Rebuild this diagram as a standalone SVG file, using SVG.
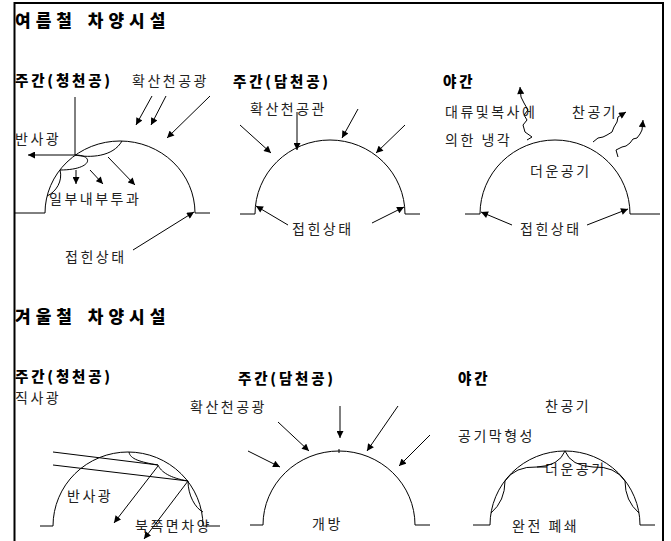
<svg xmlns="http://www.w3.org/2000/svg" width="671" height="541" viewBox="0 0 671 541">
  <defs>
    <marker id="arrow" viewBox="0 0 10 10" refX="10" refY="5" markerWidth="8" markerHeight="7" markerUnits="userSpaceOnUse" orient="auto">
      <path d="M0,0 L10,5 L0,10 z" fill="#000"/>
    </marker>
    <style>
      .ln { fill: none; stroke: #000; stroke-width: 1; }
      .ar { fill: none; stroke: #000; stroke-width: 1; marker-end: url(#arrow); }
      .t { font-family: "Noto Sans CJK KR", "Noto Sans", sans-serif; font-size: 14px; letter-spacing: 2.5px; fill: #222; }
      .h { font-family: "Noto Sans CJK KR", "Noto Sans", sans-serif; font-size: 14.5px; font-weight: 900; letter-spacing: 2.8px; fill: #000; }
      .title { font-family: "Noto Sans CJK KR", "Noto Sans", sans-serif; font-size: 17px; font-weight: 900; letter-spacing: 5px; word-spacing: 2px; fill: #000; }
    </style>
  </defs>
  <rect width="671" height="541" fill="#fff"/>

  <!-- outer frame -->
  <path d="M14.5,541 V3 H663 V541" fill="none" stroke="#000" stroke-width="2"/>

  <!-- ===== summer ===== -->
  <g id="summer-title"><text class="title" x="15" y="27">여름철 차양시설</text></g>

  <g id="summer-clear">
    <text class="h" x="15" y="86">주간(청천공)</text>
    <text class="t" x="132" y="86">확산천공광</text>
    <text class="t" x="15" y="144">반사광</text>
    <text class="t" x="49" y="204">일부내부투과</text>
    <text class="t" x="65" y="262">접힌상태</text>
    <path class="ln" d="M15,213 H45 A75,72 0 0 1 195,213 H210"/>
    <!-- folded screen pieces -->
    <path class="ln" d="M75,155 C90,158 113,157 122,141"/>
    <path class="ln" d="M75,155 C95,155 92,170 60,170"/>
    <path class="ln" d="M60,170 C63,181 56,192 47,196"/>
  </g>

  <g id="summer-overcast">
    <text class="h" x="233" y="87">주간(담천공)</text>
    <text class="t" x="250" y="114">확산천공관</text>
    <text class="t" x="292" y="234">접힌상태</text>
    <path class="ln" d="M240,214 H255 A75,74 0 0 1 405,214 H420"/>
  </g>

  <g id="summer-night">
    <text class="h" x="443" y="87">야간</text>
    <text class="t" x="445" y="117">대류및복사에</text>
    <text class="t" x="572" y="117">찬공기</text>
    <text class="t" x="445" y="145">의한 냉각</text>
    <text class="t" x="530" y="176">더운공기</text>
    <text class="t" x="520" y="234">접힌상태</text>
    <path class="ln" d="M465,214 H480 A75,74 0 0 1 630,214 H660"/>
  </g>

  <!-- ===== winter ===== -->
  <g id="winter-title"><text class="title" x="15" y="323">겨울철 차양시설</text></g>

  <g id="winter-clear">
    <text class="h" x="15" y="382">주간(청천공)</text>
    <text class="t" x="15" y="403">직사광</text>
    <text class="t" x="67" y="501">반사광</text>
    <text class="t" x="135" y="531">북쪽면차양</text>
    <path class="ln" d="M40,526 H53 A75,74 0 0 1 203,526 H220"/>
    <path class="ln" d="M129,452 C130,459 140,462 158,465"/>
    <path class="ln" d="M158,465 C161,472 170,478 188,481"/>
    <path class="ln" d="M188,481 C188,495 195,508 203,512"/>
  </g>

  <g id="winter-overcast">
    <text class="h" x="238" y="384">주간(담천공)</text>
    <text class="t" x="190" y="412">확산천공광</text>
    <text class="t" x="312" y="529">개방</text>
    <path class="ln" d="M250,525 H263 A76,74 0 0 1 415,525 H430"/>
    <path class="ln" d="M339,449 V453"/>
  </g>

  <g id="winter-night">
    <text class="h" x="458" y="384">야간</text>
    <text class="t" x="545" y="411">찬공기</text>
    <text class="t" x="458" y="441">공기막형성</text>
    <text class="t" x="545" y="474">더운공기</text>
    <text class="t" x="512" y="531">완전 폐쇄</text>
    <path class="ln" d="M473,525 H490 A75,74 0 0 1 640,525 H655"/>
    <!-- air curtain pieces -->
    <path class="ln" d="M565,451 Q559,466 537,467 H547 M537,467 Q515,466 505,481"/>
    <path class="ln" d="M565,451 Q571,466 593,467 Q615,466 625,481"/>
    <path class="ln" d="M505,481 Q505,501 491,513"/>
    <path class="ln" d="M625,481 Q625,501 639,513"/>
  </g>

  <!-- ===== connectors ===== -->
  <g id="connectors">
    <!-- summer, clear sky -->
    <path class="ln" d="M75,97 V155"/>
    <path class="ar" d="M75,155 H28"/>
    <path class="ar" d="M152,96 L136,125"/>
    <path class="ar" d="M166,96 L151,125"/>
    <path class="ar" d="M210,96 L167,138"/>
    <path class="ar" d="M76,170 V184"/>
    <path class="ar" d="M90,170 L103,184"/>
    <path class="ar" d="M108,157 L135,185"/>
    <path class="ar" d="M133,250 L194,212"/>

    <!-- summer, overcast -->
    <path class="ar" d="M240,125 L271,153"/>
    <path class="ar" d="M297,112 V150"/>
    <path class="ar" d="M358,109 L342,138"/>
    <path class="ar" d="M405,125 L376,153"/>
    <path class="ar" d="M288,225 L256,206"/>
    <path class="ar" d="M372,223 L404,207"/>

    <!-- summer, night -->
    <path class="ar" d="M512,225 L481,212"/>
    <path class="ar" d="M587,225 L628,209"/>
    <path class="ar" d="M527,140 L532,137 L525,132 L523,125 L527,120 L524,115 L528,110 L524,103 L521,97 L520,87"/>
    <path class="ar" d="M593,142 L598,138 L603,137 L607,135 L612,132 L614,127 L617,122 L618,117 L626,112"/>
    <path class="ar" d="M618,157 L616,150 L622,147 L626,146 L630,143 L633,139 L637,138 L640,134 L642,130 L643,120"/>

    <!-- winter, clear sky -->
    <path class="ln" d="M53,452 L158,465"/>
    <path class="ln" d="M53,465 L188,481"/>
    <path class="ar" d="M158,466 L114,523"/>
    <path class="ar" d="M188,481 L144,539"/>

    <!-- winter, overcast -->
    <path class="ar" d="M340,406 V438"/>
    <path class="ar" d="M278,422 L309,451"/>
    <path class="ar" d="M248,451 L280,467"/>
    <path class="ar" d="M398,406 L367,451"/>
    <path class="ar" d="M430,435 L399,466"/>
  </g>
</svg>
